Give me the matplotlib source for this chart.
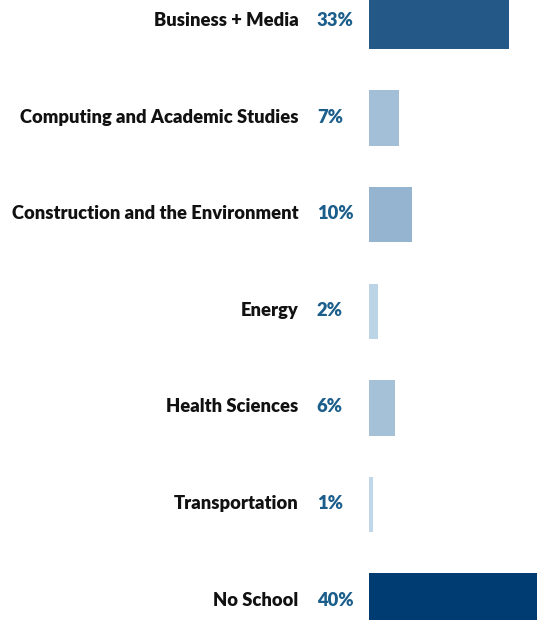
import matplotlib
matplotlib.use("Agg")
import matplotlib.pyplot as plt
import matplotlib.transforms as mtransforms

categories = ["Business + Media", "Computing and Academic Studies",
              "Construction and the Environment", "Energy",
              "Health Sciences", "Transportation", "No School"]
values = [33, 7, 10, 2, 6, 1, 40]
bar_colors = ["#245987", "#a3bfd7", "#94b4cf", "#bbd5e7",
              "#a4c1d8", "#bfd7e8", "#003b72"]

plt.rcParams['font.family'] = ['Lato', 'DejaVu Sans']

W, H = 537, 620
fig = plt.figure(figsize=(W / 100, H / 100), dpi=100)
bar_left = 369
ax = fig.add_axes([bar_left / W, 0, 1 - bar_left / W, 1])

ypos = list(range(len(categories)))
ax.barh(ypos, values, height=0.575, color=bar_colors, left=0)
ax.set_xlim(0, 39.5)
ax.set_ylim(6.196, -0.2226)
ax.axis('off')

# labels sit left of the bars, in figure x / data y
trans = mtransforms.blended_transform_factory(fig.transFigure, ax.transData)
for y, cat, v in zip(ypos, categories, values):
    fig.text(298.6 / W, y - 0.01, cat, transform=trans, ha='right', va='center',
             fontsize=13.2, fontweight='heavy', color='#111111')
    fig.text(316.8 / W, y - 0.01, f"{v}%", transform=trans, ha='left', va='center',
             fontsize=13.2, fontweight='heavy', color='#1b5e8c')

fig.savefig("out.png", dpi=100)
